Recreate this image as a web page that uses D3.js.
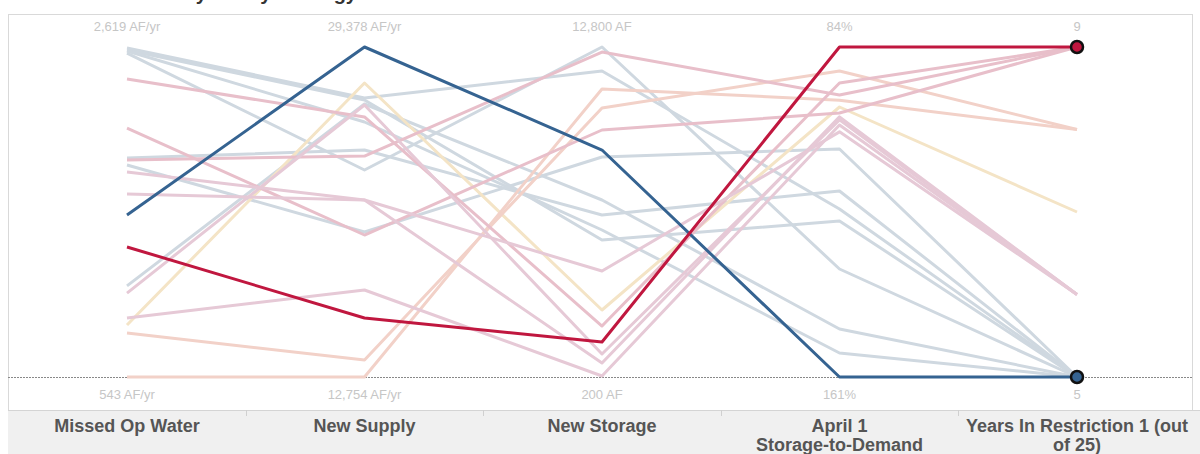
<!DOCTYPE html>
<html>
<head>
<meta charset="utf-8">
<script src="https://cdn.jsdelivr.net/npm/d3@7"></script>
<style>
  body { margin: 0; background: #fff; }
  svg { display: block; font-family: Arial, "Liberation Sans", sans-serif; }
</style>
</head>
<body>
<div id="chart"></div>
<script>
// axes, left to right
const dimensions = ["missedOp", "newSupply", "newStorage", "storageDemand", "yearsRestriction"]
const headerLines = [["Missed Op Water"], ["New Supply"], ["New Storage"], ["April 1", "Storage-to-Demand"], ["Years In Restriction 1 (out", "of 25)"]]
const topLabels = ["2,619 AF/yr", "29,378 AF/yr", "12,800 AF", "84%", "9"]
const bottomLabels = ["543 AF/yr", "12,754 AF/yr", "200 AF", "161%", "5"]
// domain per axis as [bottom, top]
const axisDomains = [[543, 2619], [12754, 29378], [200, 12800], [161, 84], [5, 9]]

// one entry per strategy
const missedOp =         [2613, 2600, 2581, 1921, 1877, 1116, 2594, 1562, 1361, 870, 820, 543, 2418, 2109, 1908, 1833, 1694, 1071, 914]
const newSupply =        [26809, 26708, 23182, 24189, 20059, 26507, 25600, 29378, 15726, 27565, 13610, 12754, 25852, 19907, 23887, 21671, 21671, 26456, 17137]
const newStorage =       [11884, 5431, 12800, 6386, 8600, 6958, 5813, 8867, 1536, 2758, 10471, 11196, 2147, 9631, 12609, 4247, 735, 1078, 238]
const storageDemand =    [121.8, 124.6, 135.8, 117.6, 107.8, 149.8, 155.4, 161, 84, 98, 89.6, 96.4, 92.4, 99.4, 95.2, 103.8, 100.3, 101, 102.2]
const yearsRestriction = [5, 5, 5, 5, 5, 5, 5, 5, 9, 7, 8, 8, 9, 9, 9, 6, 6, 6, 6]
const highlight =        ["", "", "", "", "", "", "", "blue", "red", "", "", "", "", "", "", "", "", "", ""]

const rows = missedOp.map((d, i) => ({
  missedOp: d,
  newSupply: newSupply[i],
  newStorage: newStorage[i],
  storageDemand: storageDemand[i],
  yearsRestriction: yearsRestriction[i],
  highlight: highlight[i]
}))

const width = 1200, height = 454
const svg = d3.select("#chart").append("svg").attr("width", width).attr("height", height)

// title sits mostly above the visible area, as in the original screenshot
svg.append("text")
  .attr("x", 357).attr("y", 0)
  .attr("text-anchor", "end")
  .style("font-size", "20px").style("font-weight", "bold")
  .attr("fill", "#333")
  .text("Performance by Policy Strategy")

const x = d3.scalePoint().domain(dimensions).range([127, 1077])
const y = {}
dimensions.forEach((d, i) => {
  y[d] = d3.scaleLinear().domain(axisDomains[i]).range([377, 47])
})

// frame
svg.append("rect")
  .attr("x", 8.5).attr("y", 14.5).attr("width", 1184).attr("height", 396)
  .attr("fill", "none").attr("stroke", "#d9d9d9")

// header band
svg.append("rect")
  .attr("x", 8).attr("y", 410).attr("width", 1192).attr("height", 44)
  .attr("fill", "#f0f0f0")
svg.append("line")
  .attr("x1", 8).attr("x2", 1200).attr("y1", 410.5).attr("y2", 410.5)
  .attr("stroke", "#d4d4d4")
dimensions.slice(1).forEach((d, i) => {
  const sx = Math.round((x(dimensions[i]) + x(d)) / 2) + 0.5
  svg.append("line")
    .attr("x1", sx).attr("x2", sx).attr("y1", 410).attr("y2", 416)
    .attr("stroke", "#d0d0d0")
})

// dotted line at the bottom of every axis
svg.append("line")
  .attr("x1", 8).attr("x2", 1192).attr("y1", 377.5).attr("y2", 377.5)
  .attr("stroke", "#888").attr("stroke-dasharray", "2,1")

// axis end labels
dimensions.forEach((d, i) => {
  svg.append("text")
    .attr("x", x(d)).attr("y", 31)
    .attr("text-anchor", "middle")
    .style("font-size", "13px").attr("fill", "#c6c6c6")
    .text(topLabels[i])
  svg.append("text")
    .attr("x", x(d)).attr("y", 399)
    .attr("text-anchor", "middle")
    .style("font-size", "13px").attr("fill", "#c6c6c6")
    .text(bottomLabels[i])
  headerLines[i].forEach((t, j) => {
    svg.append("text")
      .attr("x", x(d)).attr("y", 432 + j * 19)
      .attr("text-anchor", "middle")
      .style("font-size", "18px").style("font-weight", "bold")
      .attr("fill", "#555")
      .text(t)
  })
})

// colour by years in restriction
const yearColor = d3.scaleOrdinal()
  .domain([5, 6, 7, 8, 9])
  .range(["#cfd8e0", "#e6c9d6", "#f4e4c6", "#f2d1c8", "#e8bfca"])
const hiColor = { blue: "#356391", red: "#c0173f" }

const path = (d) => d3.line()(dimensions.map((k) => [x(k), y[k](d[k])]))

// faded lines first, highlighted ones on top
const order = rows.slice().sort((a, b) => (a.highlight ? 1 : 0) - (b.highlight ? 1 : 0))

svg.append("g")
  .selectAll("path")
  .data(order)
  .join("path")
  .attr("d", path)
  .attr("fill", "none")
  .attr("stroke", (d) => d.highlight ? hiColor[d.highlight] : yearColor(d.yearsRestriction))
  .attr("stroke-width", 3)
  .attr("stroke-linejoin", "round")

// end markers on the last axis
const last = dimensions[dimensions.length - 1]
svg.append("g")
  .selectAll("circle")
  .data(rows.filter((d) => d.highlight))
  .join("circle")
  .attr("cx", x(last))
  .attr("cy", (d) => y[last](d[last]))
  .attr("r", 6)
  .attr("fill", (d) => hiColor[d.highlight])
  .attr("stroke", "#111")
  .attr("stroke-width", 2.5)
</script>
</body>
</html>
